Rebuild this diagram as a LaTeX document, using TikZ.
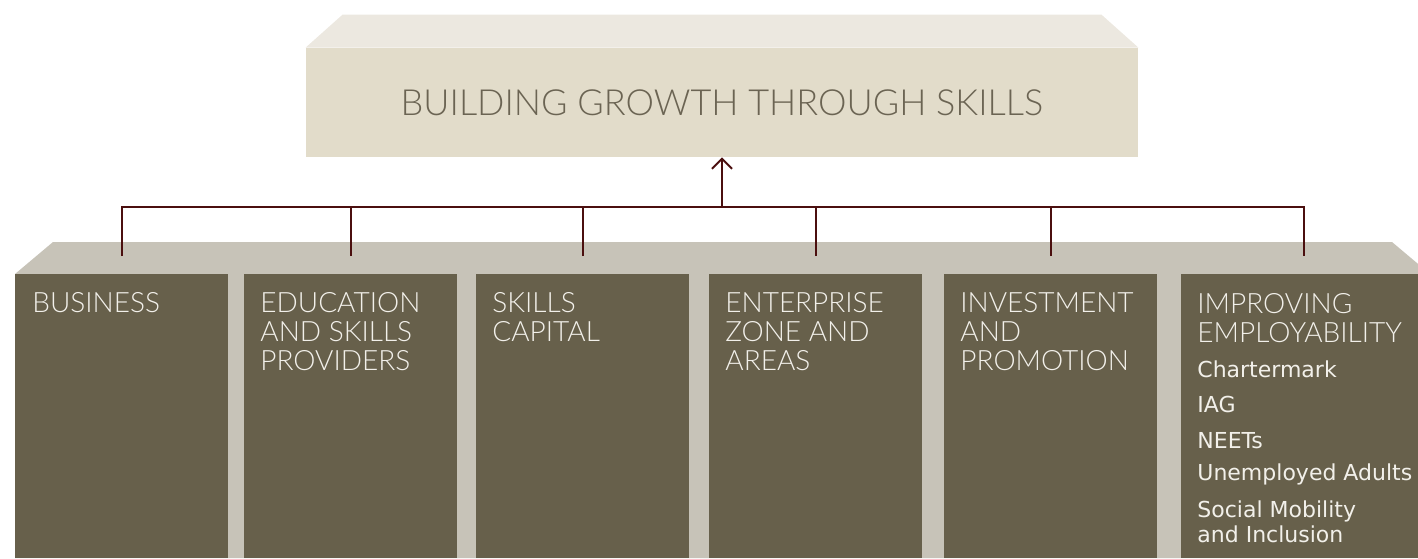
\documentclass[tikz,border=0pt]{standalone}
\usepackage{fontspec}
\setmainfont{DejaVu Sans}
\newfontfamily\thinfont{Lato Light}
\usepackage{tikz}
\usetikzlibrary{arrows.meta, positioning, calc}
\definecolor{beigeTapa}{RGB}{236, 232, 224}
\definecolor{beigeFrente}{RGB}{226, 220, 202}
\definecolor{tituloTexto}{RGB}{107, 100, 83}
\definecolor{grisBloque}{RGB}{199, 195, 184}
\definecolor{olivaColumna}{RGB}{103, 96, 75}
\definecolor{cremaTexto}{RGB}{242, 240, 234}
\definecolor{granateLinea}{RGB}{75, 15, 15}

\begin{document}
\begin{tikzpicture}[x=0.5pt, y=-0.5pt,
    colbox/.style={fill=olivaColumna, minimum width=106.5pt, minimum height=142pt, anchor=north west, inner sep=0pt},
    headtext/.style={font=\thinfont\fontsize{14}{14.5}\selectfont, text=cremaTexto, anchor=north west, align=left, inner sep=0pt},
    itemtext/.style={font=\fontsize{11}{12.7}\selectfont, text=cremaTexto, anchor=north west, align=left, inner sep=0pt},
    link/.style={draw=granateLinea, line width=1pt}]
    \useasboundingbox (0,0) rectangle (1418,558);
    \clip (0,0) rectangle (1418,558);

    % Caja del titulo
    \node[fill=beigeFrente, minimum width=416pt, minimum height=54.5pt, inner sep=0pt,
          font=\thinfont\fontsize{18}{20}\selectfont, text=tituloTexto] (title) at (722,102.5)
          {BUILDING GROWTH THROUGH SKILLS};
    \fill[beigeTapa] (title.north west) -- ++(37,-33) -- ($(title.north east)+(-37,-33)$) -- (title.north east) -- cycle;

    % Bloque de base
    \fill[grisBloque] (15,274) -- (53,242) -- (1392,242) -- (1430,274) -- (1430,558) -- (15,558) -- cycle;

    % Columnas
    \node[colbox] (col1) at (15,274) {};
    \node[colbox] (col2) at (244,274) {};
    \node[colbox] (col3) at (476,274) {};
    \node[colbox] (col4) at (709,274) {};
    \node[colbox] (col5) at (944,274) {};
    \node[colbox, minimum width=123pt] (col6) at (1181,274) {};

    \node[headtext] (business) at ($(col1.north west)+(17,18)$) {BUSINESS};
    \node[headtext] (education) at ($(col2.north west)+(16,18)$) {EDUCATION\\AND SKILLS\\PROVIDERS};
    \node[headtext] (capital) at ($(col3.north west)+(16,18)$) {SKILLS\\CAPITAL};
    \node[headtext] (enterprise) at ($(col4.north west)+(16,18)$) {ENTERPRISE\\ZONE AND\\AREAS};
    \node[headtext] (investment) at ($(col5.north west)+(16,18)$) {INVESTMENT\\AND\\PROMOTION};
    \node[headtext] (employ) at ($(col6.north west)+(16,19)$) {IMPROVING\\EMPLOYABILITY};

    \node[itemtext] (charter) at (1197,360) {Chartermark};
    \node[itemtext] (iag) at (1197,396) {IAG};
    \node[itemtext] (neets) at (1197,432) {NEETs};
    \node[itemtext] (adults) at (1197,463) {Unemployed Adults};
    \node[itemtext] (mobility) at (1197,500) {Social Mobility\\and Inclusion};

    % Conectores
    \coordinate (hub) at (722,207);
    \coordinate (d1) at ($(col1.north)+(0,-18)$);
    \coordinate (d2) at ($(col2.north)+(0,-18)$);
    \coordinate (d3) at ($(col3.north)+(0,-18)$);
    \coordinate (d4) at ($(col4.north)+(0,-18)$);
    \coordinate (d5) at ($(col5.north)+(0,-18)$);
    \coordinate (d6) at ($(col6.north)+(0,-18)$);
    \draw[link] (d1) -- (d1 |- hub) -- (d6 |- hub) -- (d6);
    \draw[link] (d2) -- (d2 |- hub);
    \draw[link] (d3) -- (d3 |- hub);
    \draw[link] (d4) -- (d4 |- hub);
    \draw[link] (d5) -- (d5 |- hub);
    \draw[link, -{Straight Barb[length=5pt, width=10pt]}] (hub) -- (title.south);
\end{tikzpicture}
\end{document}
